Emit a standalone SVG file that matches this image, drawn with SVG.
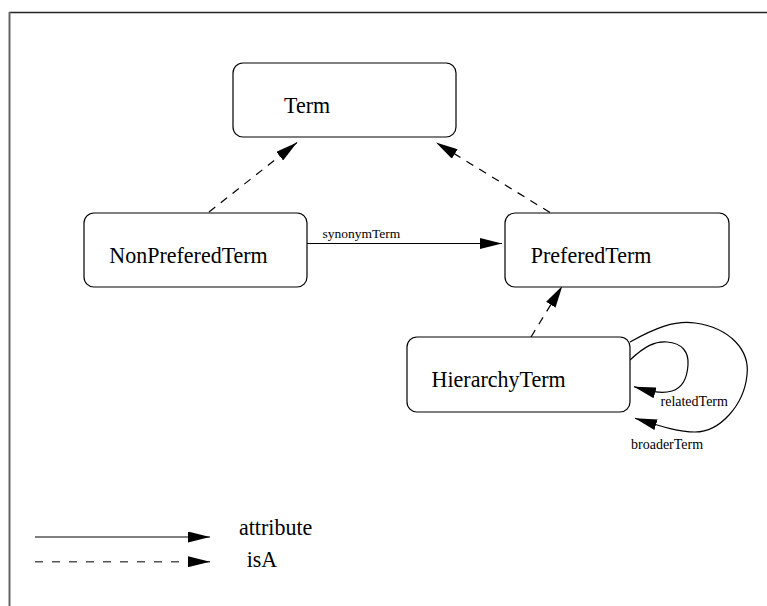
<svg xmlns="http://www.w3.org/2000/svg" width="767" height="606" viewBox="0 0 767 606">
  <style>
    .box { fill: #ffffff; stroke: #000000; stroke-width: 1.2; }
    .big { font-family: "Liberation Serif", "Times New Roman", serif; font-size: 22px; fill: #000000; }
    .small { font-family: "Liberation Serif", "Times New Roman", serif; font-size: 14px; fill: #000000; }
    .solid { fill: none; stroke: #000000; stroke-width: 1.2; }
    .dashed { fill: none; stroke: #000000; stroke-width: 1.2; stroke-dasharray: 8 7; }
    .legend { fill: none; stroke: #555555; stroke-width: 1.6; }
    .legend-dash { fill: none; stroke: #555555; stroke-width: 1.6; stroke-dasharray: 8 9; }
    .frame-top { stroke: #222222; stroke-width: 1.6; }
    .frame-left { stroke: #666666; stroke-width: 2; }
  </style>
  <defs>
    <marker id="arrow" viewBox="0 0 22 11" refX="22" refY="5.5" markerWidth="22" markerHeight="11" markerUnits="userSpaceOnUse" orient="auto">
      <path d="M0,0 L22,5.5 L0,11 z" fill="#000000" stroke="none"/>
    </marker>
  </defs>
  <rect x="0" y="0" width="767" height="606" fill="#ffffff"/>
  <g id="frame">
    <line class="frame-top" x1="9" y1="12.5" x2="767" y2="12.5"/>
    <line class="frame-left" x1="9.5" y1="12" x2="9.5" y2="606"/>
  </g>
  <g id="connectors">
    <line class="dashed" x1="209" y1="212" x2="297" y2="142.5" marker-end="url(#arrow)"/>
    <line class="dashed" x1="550" y1="212.5" x2="436" y2="142.5" marker-end="url(#arrow)"/>
    <line class="dashed" x1="531" y1="337" x2="562.3" y2="286" marker-end="url(#arrow)"/>
    <line class="solid" x1="307" y1="243.5" x2="502" y2="243.5" marker-end="url(#arrow)"/>
    <text class="small" x="322.5" y="238.3" style="font-size:13.5px">synonymTerm</text>
    <path class="solid" d="M630,360 C645,346 655,341 667,342 C682,343 689,352 688,365 C687,380 682,388 672,391 C662,394 652,392 634,386.7" marker-end="url(#arrow)"/>
    <text class="small" x="660.5" y="406">relatedTerm</text>
    <path class="solid" d="M630,342 C655,328 675,320 695,323 C730,328 750,350 747,375 C744,405 720,432 695,432 C678,432 660,426 635,418.3" marker-end="url(#arrow)"/>
    <text class="small" x="631" y="449.3">broaderTerm</text>
  </g>
  <g id="Term">
    <rect class="box" x="233" y="63" width="223" height="74" rx="10" ry="10"/>
    <text class="big" transform="translate(284 113.3) scale(1 1.09)">Term</text>
  </g>
  <g id="NonPreferedTerm">
    <rect class="box" x="84" y="213" width="223" height="74" rx="10" ry="10"/>
    <text class="big" transform="translate(109.3 262.7) scale(1 1.09)">NonPreferedTerm</text>
  </g>
  <g id="PreferedTerm">
    <rect class="box" x="505" y="213" width="224" height="74" rx="10" ry="10"/>
    <text class="big" transform="translate(530.8 262.8) scale(1 1.09)">PreferedTerm</text>
  </g>
  <g id="HierarchyTerm">
    <rect class="box" x="407" y="337" width="223" height="75" rx="10" ry="10"/>
    <text class="big" transform="translate(431.6 386.7) scale(1 1.09)">HierarchyTerm</text>
  </g>
  <g id="legend">
    <line class="legend" x1="35" y1="537" x2="210" y2="537" marker-end="url(#arrow)"/>
    <line class="legend-dash" x1="35" y1="561.7" x2="210" y2="561.7" marker-end="url(#arrow)"/>
    <text class="big" transform="translate(239 534.6) scale(1 1.09)">attribute</text>
    <text class="big" transform="translate(246.7 566.7) scale(1 1.09)">isA</text>
  </g>
</svg>
